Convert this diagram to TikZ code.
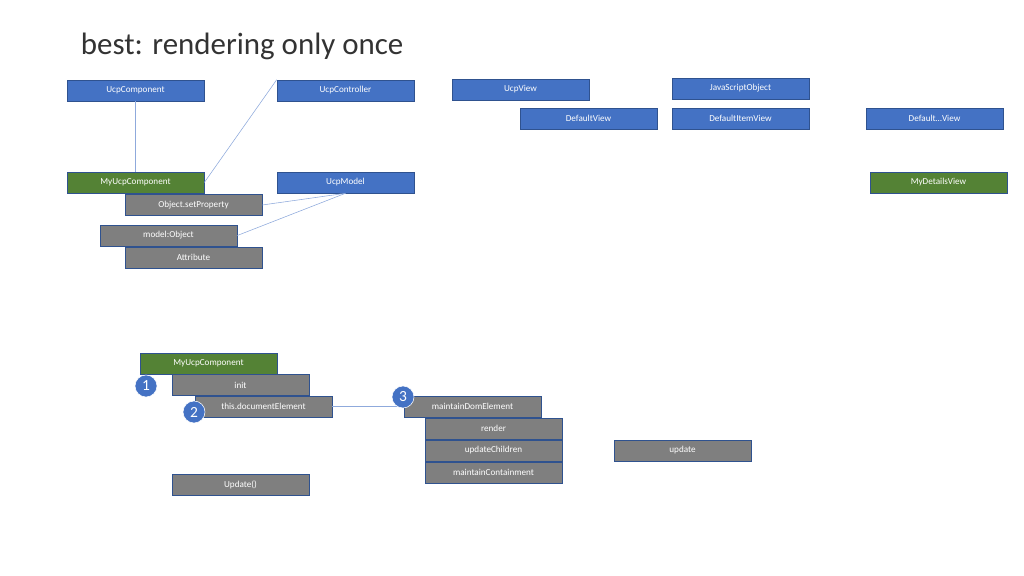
\documentclass[tikz,border=0pt]{standalone}
\usepackage{fontspec}
\setmainfont{Carlito}
\definecolor{boxblue}{HTML}{4472C4}
\definecolor{boxgreen}{HTML}{548235}
\definecolor{boxgray}{HTML}{7F7F7F}
\definecolor{edgeblue}{HTML}{2F528F}
\definecolor{lineblue}{HTML}{8FAADC}
\tikzset{
  cls/.style={draw=edgeblue, fill=boxblue, text=white, minimum width=3.425cm, minimum height=0.525cm, inner sep=0pt, font=\fontsize{6.5}{7}\selectfont},
  own/.style={cls, fill=boxgreen, draw=edgeblue},
  mth/.style={cls, fill=boxgray},
  num/.style={circle, draw=white, fill=boxblue, text=white, minimum size=0.55cm, inner sep=0pt, font=\fontsize{11}{12}\selectfont},
  link/.style={draw=lineblue, thin}
}
\begin{document}
\begin{tikzpicture}[x=0.025cm, y=-0.025cm]
\useasboundingbox (0,0) rectangle (1024,576);
\node[anchor=west, font=\fontsize{22}{24}\selectfont, text=black!80] (title) at (76,46) {best: rendering only once};

\node[cls] (UC) at (135.5,90.5) {UcpComponent};
\node[cls] (UCtrl) at (345.5,90.5) {UcpController};
\node[cls] (UV) at (520.5,89.5) {UcpView};
\node[cls] (JSO) at (740.5,88.5) {JavaScriptObject};
\node[cls] (DV) at (588.5,118.5) {DefaultView};
\node[cls] (DIV) at (740.5,118.5) {DefaultItemView};
\node[cls] (DXV) at (934.5,118.5) {Default…View};
\node[own] (MUC) at (135.5,182.5) {MyUcpComponent};
\node[cls] (UM) at (345.5,182.5) {UcpModel};
\node[own] (MDV) at (938.5,182.5) {MyDetailsView};
\node[mth] (OSP) at (193.5,205) {Object.setProperty};
\node[mth] (MO) at (168.5,235.5) {model:Object};
\node[mth] (Att) at (193.5,257.5) {Attribute};

\draw[link] (UC) -- (MUC);
\draw[link] (UCtrl.north west) -- (MUC.east);
\draw[link] (UM.south) -- (OSP.east);
\draw[link] (UM.south) -- (MO.east);

\node[own] (MUC2) at (208.5,363.5) {MyUcpComponent};
\node[mth] (init) at (240.5,385) {init};
\node[mth] (TDE) at (263.5,406.5) {this.documentElement};
\node[mth] (MDE) at (472.5,406.5) {maintainDomElement};
\node[mth] (rnd) at (493.5,428.5) {render};
\node[mth] (UCh) at (493.5,450.5) {updateChildren};
\node[mth] (MC) at (493.5,472.5) {maintainContainment};
\node[mth] (upd) at (682.5,450.5) {update};
\node[mth] (Upd) at (240.5,484.5) {Update()};
\draw[link] (TDE) -- (MDE);

\node[num] (n1) at (146,386) {1};
\node[num] (n2) at (194,412) {2};
\node[num] (n3) at (403,397) {3};
\end{tikzpicture}
\end{document}
